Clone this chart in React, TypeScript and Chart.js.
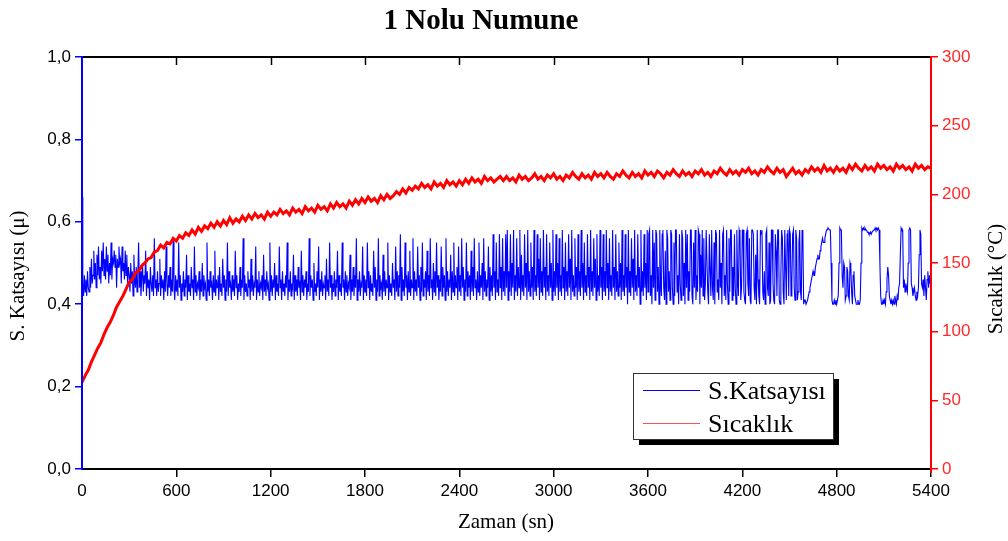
import React, { useEffect, useRef } from 'react';
import { Chart, registerables } from 'chart.js';
Chart.register(...registerables);

const TITLE = '1 Nolu Numune';
const X_TITLE = 'Zaman (sn)';
const Y_LEFT_TITLE = 'S. Katsayısı (μ)';
const Y_RIGHT_TITLE = 'Sıcaklık (°C)';
const SERIES_NAMES = ['S.Katsayısı', 'Sıcaklık'];

const X_TICKS = [0, 600, 1200, 1800, 2400, 3000, 3600, 4200, 4800, 5400];
const X_TICK_LABELS = ['0', '600', '1200', '1800', '2400', '3000', '3600', '4200', '4800', '5400'];
const Y_LEFT_TICKS = [0, 0.2, 0.4, 0.6, 0.8, 1.0];
const Y_LEFT_TICK_LABELS = ['0,0', '0,2', '0,4', '0,6', '0,8', '1,0'];
const Y_RIGHT_TICKS = [0, 50, 100, 150, 200, 250, 300];
const Y_RIGHT_TICK_LABELS = ['0', '50', '100', '150', '200', '250', '300'];

// friction coefficient, sampled every 5 s (0 .. 5400 s), one row = 300 s
const FRICTION_STEP = 5;
const FRICTION = [
  0.66, 0.45, 0.42, 0.47, 0.43, 0.46, 0.42, 0.48, 0.44, 0.43, 0.49, 0.44, 0.51, 0.45, 0.47, 0.53, 0.46, 0.50, 0.44, 0.52,
  0.47, 0.54, 0.46, 0.49, 0.45, 0.53, 0.48, 0.55, 0.47, 0.51, 0.46, 0.54, 0.48, 0.52, 0.45, 0.50, 0.47, 0.55, 0.46, 0.51,
  0.50, 0.53, 0.49, 0.52, 0.44, 0.51, 0.49, 0.54, 0.50, 0.51, 0.45, 0.54, 0.48, 0.50, 0.46, 0.53, 0.47, 0.52, 0.45, 0.49,

  0.47, 0.43, 0.50, 0.45, 0.48, 0.42, 0.52, 0.46, 0.44, 0.49, 0.43, 0.47, 0.55, 0.44, 0.48, 0.42, 0.46, 0.50, 0.43, 0.47,
  0.45, 0.53, 0.42, 0.48, 0.44, 0.46, 0.41, 0.49, 0.45, 0.43, 0.47, 0.42, 0.56, 0.44, 0.46, 0.42, 0.48, 0.43, 0.45, 0.51,
  0.42, 0.47, 0.44, 0.46, 0.41, 0.48, 0.43, 0.54, 0.45, 0.42, 0.47, 0.44, 0.49, 0.42, 0.46, 0.43, 0.56, 0.44, 0.41, 0.47,

  0.43, 0.46, 0.42, 0.55, 0.44, 0.47, 0.41, 0.45, 0.43, 0.48, 0.42, 0.46, 0.44, 0.52, 0.41, 0.47, 0.43, 0.45, 0.42, 0.49,
  0.44, 0.46, 0.41, 0.54, 0.43, 0.47, 0.42, 0.45, 0.44, 0.48, 0.41, 0.46, 0.43, 0.50, 0.42, 0.47, 0.44, 0.45, 0.41, 0.55,
  0.43, 0.46, 0.42, 0.48, 0.44, 0.45, 0.41, 0.47, 0.43, 0.53, 0.42, 0.46, 0.44, 0.47, 0.41, 0.49, 0.43, 0.45, 0.42, 0.51,

  0.44, 0.47, 0.41, 0.46, 0.43, 0.55, 0.42, 0.48, 0.44, 0.45, 0.41, 0.47, 0.43, 0.46, 0.42, 0.53, 0.44, 0.47, 0.41, 0.45,
  0.43, 0.49, 0.42, 0.46, 0.44, 0.56, 0.41, 0.47, 0.43, 0.45, 0.42, 0.48, 0.44, 0.46, 0.41, 0.51, 0.43, 0.47, 0.42, 0.45,
  0.44, 0.54, 0.41, 0.46, 0.43, 0.48, 0.42, 0.45, 0.44, 0.47, 0.41, 0.52, 0.43, 0.46, 0.42, 0.48, 0.44, 0.45, 0.41, 0.55,

  0.43, 0.47, 0.42, 0.46, 0.44, 0.50, 0.41, 0.47, 0.43, 0.45, 0.42, 0.54, 0.44, 0.46, 0.41, 0.48, 0.43, 0.45, 0.42, 0.47,
  0.44, 0.55, 0.41, 0.46, 0.43, 0.48, 0.42, 0.45, 0.44, 0.52, 0.41, 0.47, 0.43, 0.46, 0.42, 0.49, 0.44, 0.45, 0.41, 0.53,
  0.43, 0.47, 0.42, 0.46, 0.44, 0.48, 0.41, 0.45, 0.43, 0.56, 0.42, 0.47, 0.44, 0.46, 0.41, 0.50, 0.43, 0.45, 0.42, 0.48,

  0.44, 0.54, 0.41, 0.46, 0.43, 0.48, 0.42, 0.45, 0.44, 0.47, 0.41, 0.51, 0.43, 0.46, 0.42, 0.55, 0.44, 0.47, 0.41, 0.45,
  0.43, 0.48, 0.42, 0.46, 0.44, 0.53, 0.41, 0.47, 0.43, 0.45, 0.42, 0.55, 0.44, 0.46, 0.41, 0.48, 0.43, 0.47, 0.42, 0.45,
  0.44, 0.52, 0.41, 0.46, 0.43, 0.49, 0.42, 0.47, 0.44, 0.56, 0.41, 0.46, 0.43, 0.48, 0.42, 0.45, 0.44, 0.54, 0.41, 0.47,

  0.43, 0.46, 0.42, 0.55, 0.44, 0.48, 0.41, 0.47, 0.43, 0.45, 0.42, 0.53, 0.44, 0.49, 0.41, 0.46, 0.43, 0.56, 0.42, 0.47,
  0.44, 0.45, 0.41, 0.52, 0.43, 0.48, 0.42, 0.46, 0.44, 0.55, 0.41, 0.47, 0.43, 0.45, 0.42, 0.50, 0.44, 0.46, 0.41, 0.54,
  0.43, 0.48, 0.42, 0.47, 0.44, 0.57, 0.41, 0.49, 0.43, 0.46, 0.42, 0.55, 0.44, 0.47, 0.41, 0.48, 0.43, 0.53, 0.42, 0.46,

  0.44, 0.56, 0.41, 0.48, 0.43, 0.46, 0.42, 0.54, 0.44, 0.47, 0.41, 0.49, 0.43, 0.55, 0.42, 0.46, 0.44, 0.48, 0.41, 0.53,
  0.43, 0.47, 0.42, 0.56, 0.44, 0.46, 0.41, 0.50, 0.43, 0.48, 0.42, 0.55, 0.44, 0.47, 0.41, 0.46, 0.43, 0.54, 0.42, 0.49,
  0.44, 0.47, 0.41, 0.56, 0.43, 0.48, 0.42, 0.46, 0.44, 0.52, 0.41, 0.48, 0.43, 0.55, 0.42, 0.47, 0.44, 0.49, 0.41, 0.54,

  0.43, 0.47, 0.42, 0.56, 0.44, 0.49, 0.41, 0.46, 0.43, 0.55, 0.42, 0.48, 0.44, 0.47, 0.41, 0.53, 0.43, 0.49, 0.42, 0.56,
  0.44, 0.46, 0.41, 0.48, 0.43, 0.55, 0.42, 0.47, 0.44, 0.50, 0.41, 0.56, 0.43, 0.48, 0.42, 0.46, 0.44, 0.54, 0.41, 0.49,
  0.43, 0.47, 0.42, 0.57, 0.44, 0.48, 0.41, 0.55, 0.43, 0.46, 0.42, 0.57, 0.44, 0.49, 0.41, 0.56, 0.43, 0.48, 0.42, 0.57,

  0.44, 0.58, 0.41, 0.48, 0.43, 0.57, 0.42, 0.50, 0.44, 0.58, 0.41, 0.47, 0.43, 0.56, 0.42, 0.49, 0.44, 0.58, 0.41, 0.52,
  0.43, 0.47, 0.42, 0.57, 0.44, 0.50, 0.41, 0.58, 0.43, 0.48, 0.42, 0.55, 0.44, 0.49, 0.41, 0.58, 0.43, 0.47, 0.42, 0.57,
  0.44, 0.51, 0.41, 0.56, 0.43, 0.48, 0.42, 0.58, 0.44, 0.49, 0.41, 0.57, 0.43, 0.47, 0.42, 0.55, 0.44, 0.50, 0.41, 0.58,

  0.43, 0.48, 0.42, 0.57, 0.44, 0.50, 0.41, 0.56, 0.43, 0.47, 0.42, 0.58, 0.44, 0.49, 0.41, 0.55, 0.43, 0.48, 0.42, 0.57,
  0.44, 0.51, 0.41, 0.58, 0.43, 0.47, 0.42, 0.56, 0.44, 0.49, 0.41, 0.57, 0.43, 0.48, 0.42, 0.58, 0.44, 0.50, 0.41, 0.55,
  0.43, 0.47, 0.42, 0.57, 0.44, 0.49, 0.41, 0.58, 0.43, 0.48, 0.42, 0.56, 0.44, 0.51, 0.41, 0.57, 0.43, 0.47, 0.42, 0.58,

  0.44, 0.49, 0.41, 0.57, 0.43, 0.48, 0.42, 0.58, 0.44, 0.50, 0.41, 0.56, 0.43, 0.47, 0.42, 0.58, 0.44, 0.49, 0.41, 0.57,
  0.43, 0.48, 0.42, 0.55, 0.44, 0.50, 0.41, 0.58, 0.43, 0.47, 0.42, 0.57, 0.44, 0.49, 0.40, 0.58, 0.43, 0.48, 0.42, 0.56,
  0.44, 0.51, 0.41, 0.58, 0.43, 0.47, 0.42, 0.57, 0.44, 0.49, 0.40, 0.58, 0.43, 0.48, 0.42, 0.57, 0.44, 0.50, 0.41, 0.58,

  0.43, 0.57, 0.58, 0.42, 0.47, 0.40, 0.58, 0.44, 0.55, 0.41, 0.58, 0.57, 0.43, 0.49, 0.40, 0.58, 0.45, 0.42, 0.57, 0.58,
  0.44, 0.41, 0.53, 0.40, 0.58, 0.56, 0.43, 0.48, 0.41, 0.58, 0.57, 0.44, 0.40, 0.55, 0.42, 0.58, 0.58, 0.43, 0.47, 0.40,
  0.57, 0.45, 0.41, 0.58, 0.56, 0.42, 0.50, 0.40, 0.58, 0.44, 0.57, 0.41, 0.48, 0.43, 0.58, 0.58, 0.42, 0.40, 0.55, 0.44,

  0.58, 0.41, 0.47, 0.43, 0.58, 0.57, 0.40, 0.52, 0.44, 0.58, 0.42, 0.56, 0.41, 0.45, 0.58, 0.58, 0.43, 0.40, 0.57, 0.48,
  0.42, 0.58, 0.44, 0.41, 0.55, 0.40, 0.58, 0.57, 0.43, 0.46, 0.41, 0.58, 0.44, 0.50, 0.40, 0.57, 0.58, 0.42, 0.47, 0.41,
  0.58, 0.45, 0.40, 0.56, 0.43, 0.58, 0.58, 0.41, 0.49, 0.42, 0.57, 0.44, 0.40, 0.58, 0.46, 0.42, 0.58, 0.57, 0.41, 0.44,

  0.58, 0.58, 0.43, 0.41, 0.40, 0.57, 0.58, 0.45, 0.42, 0.56, 0.41, 0.40, 0.58, 0.58, 0.57, 0.44, 0.41, 0.52, 0.40, 0.58,
  0.46, 0.42, 0.40, 0.58, 0.57, 0.58, 0.43, 0.41, 0.48, 0.40, 0.57, 0.58, 0.44, 0.42, 0.55, 0.40, 0.41, 0.58, 0.58, 0.45,
  0.41, 0.40, 0.57, 0.53, 0.42, 0.58, 0.58, 0.41, 0.40, 0.47, 0.58, 0.56, 0.43, 0.40, 0.58, 0.49, 0.41, 0.57, 0.58, 0.42,

  0.58, 0.57, 0.42, 0.45, 0.57, 0.58, 0.44, 0.41, 0.58, 0.56, 0.41, 0.43, 0.55, 0.58, 0.43, 0.41, 0.58, 0.57, 0.40, 0.41,
  0.41, 0.40, 0.40, 0.41, 0.42, 0.43, 0.44, 0.45, 0.46, 0.47, 0.48, 0.47, 0.47, 0.49, 0.50, 0.51, 0.52, 0.51, 0.51, 0.53,
  0.54, 0.55, 0.56, 0.55, 0.55, 0.56, 0.57, 0.58, 0.58, 0.585, 0.585, 0.58, 0.58, 0.50, 0.41, 0.40, 0.40, 0.41, 0.40, 0.41,

  0.40, 0.41, 0.42, 0.50, 0.585, 0.58, 0.58, 0.47, 0.44, 0.50, 0.49, 0.41, 0.42, 0.49, 0.48, 0.42, 0.41, 0.50, 0.49, 0.43,
  0.40, 0.47, 0.48, 0.42, 0.41, 0.40, 0.40, 0.41, 0.40, 0.40, 0.41, 0.50, 0.585, 0.58, 0.585, 0.58, 0.585, 0.58, 0.58, 0.575,
  0.575, 0.57, 0.57, 0.575, 0.57, 0.575, 0.575, 0.58, 0.58, 0.585, 0.58, 0.585, 0.58, 0.585, 0.58, 0.50, 0.42, 0.40, 0.40, 0.41,

  0.40, 0.41, 0.40, 0.43, 0.46, 0.49, 0.47, 0.42, 0.41, 0.40, 0.41, 0.40, 0.41, 0.40, 0.42, 0.41, 0.40, 0.42, 0.41, 0.44,
  0.45, 0.52, 0.585, 0.58, 0.58, 0.44, 0.46, 0.43, 0.45, 0.44, 0.43, 0.50, 0.58, 0.585, 0.58, 0.45, 0.44, 0.42, 0.43, 0.44,
  0.42, 0.41, 0.43, 0.42, 0.44, 0.52, 0.58, 0.57, 0.45, 0.44, 0.46, 0.42, 0.47, 0.44, 0.41, 0.46, 0.48, 0.44, 0.47, 0.45,

  0.47,
];

// temperature (°C), sampled every 20 s (0 .. 5400 s), one row = 300 s
const TEMP_STEP = 20;
const TEMPERATURE = [
  63, 68, 72, 78, 83, 88, 92, 98, 103, 107, 112, 118, 122, 126, 131,
  136, 138, 143, 144, 148, 150, 153, 154, 158, 159, 163, 161, 165, 164, 168,
  166, 170, 168, 172, 170, 174, 171, 176, 173, 177, 175, 179, 176, 180, 177,
  181, 178, 183, 179, 182, 180, 184, 181, 185, 182, 186, 183, 185, 182, 187,
  184, 187, 185, 189, 186, 188, 185, 190, 187, 189, 186, 191, 188, 190, 187,
  192, 189, 191, 188, 193, 190, 194, 191, 193, 190, 195, 192, 196, 193, 197,
  194, 198, 195, 197, 194, 199, 196, 200, 197, 199, 202, 200, 204, 201, 205,
  203, 206, 204, 208, 205, 207, 204, 209, 206, 208, 205, 210, 207, 209, 206,
  210, 207, 211, 208, 212, 209, 211, 208, 213, 210, 212, 209, 211, 213, 210,
  213, 210, 212, 209, 214, 211, 213, 210, 212, 215, 211, 213, 210, 214, 212,
  215, 211, 213, 210, 214, 212, 216, 213, 211, 215, 212, 214, 211, 216, 213,
  215, 212, 216, 213, 211, 215, 213, 217, 214, 212, 216, 213, 215, 212, 217,
  214, 216, 213, 217, 215, 212, 216, 214, 218, 215, 213, 217, 214, 216, 213,
  217, 215, 218, 214, 216, 213, 217, 215, 219, 216, 214, 218, 215, 217, 214,
  218, 216, 219, 215, 217, 214, 218, 216, 220, 217, 215, 219, 216, 218, 213,
  216, 219, 215, 217, 214, 218, 216, 220, 217, 219, 216, 221, 217, 219, 216,
  220, 217, 219, 216, 221, 218, 222, 219, 217, 221, 218, 220, 217, 222, 219,
  221, 218, 220, 217, 222, 219, 221, 218, 220, 217, 222, 219, 221, 218, 220,
  219,
];

const BLUE = '#0000ff';
const RED = '#ff0000';
const SERIF = "'Liberation Serif', 'Times New Roman', serif";
const SANS = "'Liberation Sans', Arial, sans-serif";

const decorPlugin = {
  id: 'decor',
  afterDraw(chart: any) {
    const { ctx, chartArea, scales } = chart;
    const { left, right, top, bottom } = chartArea;
    ctx.save();
    // top frame with inward ticks
    ctx.strokeStyle = '#000';
    ctx.lineWidth = 2;
    ctx.beginPath();
    ctx.moveTo(left, top);
    ctx.lineTo(right, top);
    ctx.stroke();
    ctx.lineWidth = 1.5;
    X_TICKS.forEach((v) => {
      if (v === X_TICKS[0] || v === X_TICKS[X_TICKS.length - 1]) return;
      const x = Math.round(scales.x.getPixelForValue(v)) + 0.5;
      ctx.beginPath();
      ctx.moveTo(x, top);
      ctx.lineTo(x, top + 8);
      ctx.stroke();
    });
    // re-draw side borders on top
    ctx.lineWidth = 2;
    ctx.strokeStyle = BLUE;
    ctx.beginPath();
    ctx.moveTo(left, top - 1);
    ctx.lineTo(left, bottom + 1);
    ctx.stroke();
    ctx.strokeStyle = RED;
    ctx.beginPath();
    ctx.moveTo(right, top - 1);
    ctx.lineTo(right, bottom + 4);
    ctx.stroke();

    // title
    ctx.fillStyle = '#000';
    ctx.font = `bold 29px ${SERIF}`;
    ctx.textAlign = 'center';
    ctx.textBaseline = 'middle';
    ctx.fillText(TITLE, 481, 22);

    // axis titles
    ctx.font = `21px ${SERIF}`;
    ctx.fillText(X_TITLE, 506, 522);
    ctx.save();
    ctx.translate(18, 276);
    ctx.rotate(-Math.PI / 2);
    ctx.fillText(Y_LEFT_TITLE, 0, 0);
    ctx.restore();
    ctx.save();
    ctx.translate(996, 279);
    ctx.rotate(-Math.PI / 2);
    ctx.fillText(Y_RIGHT_TITLE, 0, 0);
    ctx.restore();

    // legend box with shadow
    const bx = 633, by = 373, bw = 200, bh = 66;
    ctx.fillStyle = '#000';
    ctx.fillRect(bx + 6, by + 6, bw, bh);
    ctx.fillStyle = '#fff';
    ctx.fillRect(bx, by, bw, bh);
    ctx.strokeStyle = '#333';
    ctx.lineWidth = 1;
    ctx.strokeRect(bx + 0.5, by + 0.5, bw, bh);
    const rows = [
      { name: SERIES_NAMES[0], color: BLUE, y: 390 },
      { name: SERIES_NAMES[1], color: '#ff5050', y: 423 },
    ];
    ctx.font = `26px ${SERIF}`;
    ctx.textAlign = 'left';
    rows.forEach((r) => {
      ctx.strokeStyle = r.color;
      ctx.lineWidth = 1;
      ctx.beginPath();
      ctx.moveTo(643, r.y + 0.5);
      ctx.lineTo(700, r.y + 0.5);
      ctx.stroke();
      ctx.fillStyle = '#000';
      ctx.fillText(r.name, 708, r.y + 2);
    });
    ctx.restore();
  },
};

export default function App() {
  const ref = useRef<HTMLCanvasElement | null>(null);
  useEffect(() => {
    document.body.style.margin = '0';
    const canvas = ref.current;
    if (!canvas) return;
    const frictionData = FRICTION.map((v, i) => ({ x: i * FRICTION_STEP, y: v }));
    const tempData = TEMPERATURE.map((v, i) => ({ x: i * TEMP_STEP, y: v }));
    const chart = new Chart(canvas, {
      type: 'line',
      data: {
        datasets: [
          {
            label: SERIES_NAMES[1],
            data: tempData,
            yAxisID: 'y2',
            borderColor: RED,
            borderWidth: 3,
            pointRadius: 0,
            tension: 0,
            order: 0,
          },
          {
            label: SERIES_NAMES[0],
            data: frictionData,
            yAxisID: 'y',
            borderColor: BLUE,
            borderWidth: 1.1,
            pointRadius: 0,
            tension: 0,
            order: 1,
          },
        ],
      },
      options: {
        responsive: false,
        animation: false,
        devicePixelRatio: 1,
        parsing: false,
        layout: { padding: { top: 57, left: 0, right: 0, bottom: 0 } },
        plugins: {
          legend: { display: false },
          title: { display: false },
          tooltip: { enabled: false },
        },
        scales: {
          x: {
            type: 'linear',
            position: 'bottom',
            min: 0,
            max: 5400,
            afterBuildTicks: (s: any) => {
              s.ticks = X_TICKS.map((v) => ({ value: v }));
            },
            afterFit: (s: any) => {
              s.height = 72;
            },
            ticks: {
              color: '#000',
              font: { family: SANS, size: 17 },
              padding: 4,
              maxRotation: 0,
              autoSkip: false,
              callback: (_v: any, i: number) => X_TICK_LABELS[i],
            },
            grid: {
              drawOnChartArea: false,
              drawTicks: true,
              tickLength: 8,
              lineWidth: 1.5,
              color: (c: any) => (c.tick && c.tick.value === 0 ? 'rgba(0,0,0,0)' : '#000'),
            },
            border: { color: '#000', width: 2 },
          },
          y: {
            type: 'linear',
            position: 'left',
            min: 0,
            max: 1,
            afterBuildTicks: (s: any) => {
              s.ticks = Y_LEFT_TICKS.map((v) => ({ value: v }));
            },
            afterFit: (s: any) => {
              s.width = 82;
            },
            ticks: {
              color: '#000',
              font: { family: SANS, size: 17 },
              padding: 4,
              callback: (_v: any, i: number) => Y_LEFT_TICK_LABELS[i],
            },
            grid: {
              drawOnChartArea: false,
              drawTicks: true,
              tickLength: 7,
              lineWidth: 1.5,
              color: BLUE,
            },
            border: { color: BLUE, width: 2 },
          },
          y2: {
            type: 'linear',
            position: 'right',
            min: 0,
            max: 300,
            afterBuildTicks: (s: any) => {
              s.ticks = Y_RIGHT_TICKS.map((v) => ({ value: v }));
            },
            afterFit: (s: any) => {
              s.width = 77;
            },
            ticks: {
              color: '#ff2a2a',
              font: { family: SANS, size: 17 },
              padding: 4,
              callback: (_v: any, i: number) => Y_RIGHT_TICK_LABELS[i],
            },
            grid: {
              drawOnChartArea: false,
              drawTicks: true,
              tickLength: 7,
              lineWidth: 1.5,
              color: RED,
            },
            border: { color: RED, width: 2 },
          },
        },
      },
      plugins: [decorPlugin],
    });
    return () => chart.destroy();
  }, []);
  return (
    <div style={{ width: 1008, height: 541, background: '#fff' }}>
      <canvas ref={ref} width={1008} height={541} style={{ display: 'block' }} />
    </div>
  );
}
